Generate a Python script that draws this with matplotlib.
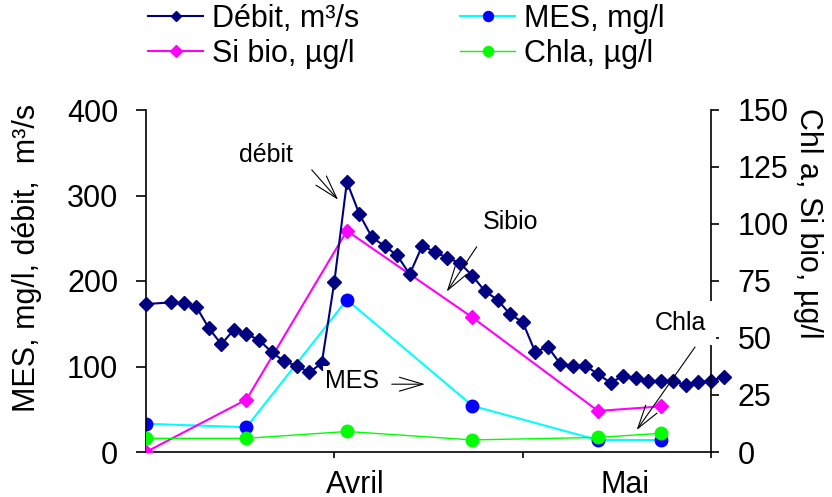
import matplotlib
matplotlib.use("Agg")
import matplotlib.pyplot as plt
from matplotlib.transforms import Bbox, TransformedBbox

plt.rcParams['font.family'] = ['Liberation Sans', 'DejaVu Sans']

# débit, daily (day 0 = first day shown, ticks every 15 days)
debit_days = [0] + list(range(2, 47))
debit = [173, 175, 174, 170, 145, 126, 143, 138, 131, 117, 106, 101, 93, 104, 199,
         316, 278, 251, 241, 230, 208, 241, 234, 227, 221, 206, 188, 178, 161, 152,
         117, 123, 103, 101, 101, 91, 81, 89, 86, 83, 83, 83, 78, 82, 83, 88]

# sampling dates
sample_days = [0, 8, 16, 26, 36, 41]
mes = [33, 29, 178, 54, 14, 14]
si_bio = [0, 23, 97, 59, 18, 20]
chla = [6, 6, 9, 5.3, 6.4, 8.2]

months = ['Avril', 'Mai']
month_days = [14.3, 36.2]

fig = plt.figure(figsize=(8.32, 4.97), dpi=100)
ax = fig.add_axes([146 / 832, 45 / 497, 565 / 832, 342 / 497])
ax2 = ax.twinx()

ax.set_xlim(0, 45)
ax.set_ylim(0, 400)
ax2.set_ylim(0, 150)

# MES on the left axis (drawn first, under Chla)
l_mes, = ax.plot(sample_days, mes, color='#00FFFF', lw=1.5, marker='o', ms=9,
                 mfc='#0000FF', mec='#0000FF', label='MES, mg/l')
l_si, = ax2.plot(sample_days, si_bio, color='#FF00FF', lw=1.5, marker='D', ms=7.5,
                 mfc='#FF00FF', mec='#FF00FF', label='Si bio, µg/l')
l_chla, = ax2.plot(sample_days, chla, color='#00FF00', lw=1.0, marker='o', ms=9,
                   mfc='#00FF00', mec='#00FF00', label='Chla, µg/l')
# débit on top of everything, but on the left scale
l_deb, = ax2.plot(debit_days, debit, color='#000080', lw=1.5, marker='D', ms=7,
                  mfc='#000080', mec='#000080', label='Débit, m³/s',
                  transform=ax.transData, clip_on=False)

for a in (ax, ax2):
    a.spines['top'].set_visible(False)
    for s in a.spines.values():
        s.set_linewidth(1.2)
ax.spines['right'].set_visible(False)
ax2.spines['left'].set_visible(False)
ax2.spines['bottom'].set_visible(False)

ax.set_yticks([0, 100, 200, 300, 400])
ax2.set_yticks([0, 25, 50, 75, 100, 125, 150])
ax.set_xticks([15, 30, 45])
ax.set_xticklabels([])
ax.tick_params(axis='y', direction='out', length=7, width=1.2, labelsize=22, pad=13)
ax2.tick_params(axis='y', direction='out', length=6, width=1.2, labelsize=22, pad=13)
ax.tick_params(axis='x', direction='out', length=4, width=1.2)

for m, d in zip(months, month_days):
    ax.text(d, -0.12, m, transform=ax.get_xaxis_transform(), ha='left',
            va='baseline', fontsize=22)

# axis titles
ylab = fig.text(27.5 / 832, 85 / 497, 'MES, mg/l, débit,  m³/s', rotation=90,
                ha='center', va='bottom', fontsize=22)
ylab.set_clip_box(TransformedBbox(Bbox([[0, 0], [1, 1 - 104 / 497]]), fig.transFigure))
ylab.set_clip_on(True)
fig.text(808 / 832, 1 - 108 / 497, 'Chl a, Si bio, µg/l', rotation=270,
         ha='center', va='top', fontsize=22)

# annotations (positions in left-axis data units)
arrow = dict(arrowstyle='->, head_length=1.7, head_width=0.5', color='black',
             lw=0.8, shrinkA=0, shrinkB=0, mutation_scale=10)
notes = [
    ('débit', (9.56, 339), (13.2, 330), (15.3, 295), None),
    ('Sibio', (29.07, 261), (26.34, 240), (23.95, 187.5), None),
    ('MES', (16.45, 75), (19.57, 79.3), (22.22, 79.3),
     dict(facecolor='white', edgecolor='none', pad=2)),
    ('Chla', (42.57, 142.7), (43.73, 122.8), (39.08, 25.7),
     dict(facecolor='white', edgecolor='none', pad=7)),
]
for txt, pos, tail, tip, box in notes:
    ax2.annotate('', xy=tip, xycoords=ax.transData, xytext=tail,
                 textcoords=ax.transData, arrowprops=arrow, zorder=3)
    ax2.text(pos[0], pos[1], txt, transform=ax.transData, ha='center',
             va='baseline', fontsize=18, bbox=box, zorder=4, clip_on=False)

fig.legend(handles=[l_deb, l_si, l_mes, l_chla], ncol=2, loc='upper left',
           bbox_to_anchor=(148 / 832, 1 - 4 / 497), frameon=False, fontsize=22,
           borderpad=0, borderaxespad=0, handlelength=1.8, handletextpad=0.3,
           columnspacing=3.3, labelspacing=0.15, numpoints=1, markerscale=0.8)

fig.savefig('out.png', dpi=100)
